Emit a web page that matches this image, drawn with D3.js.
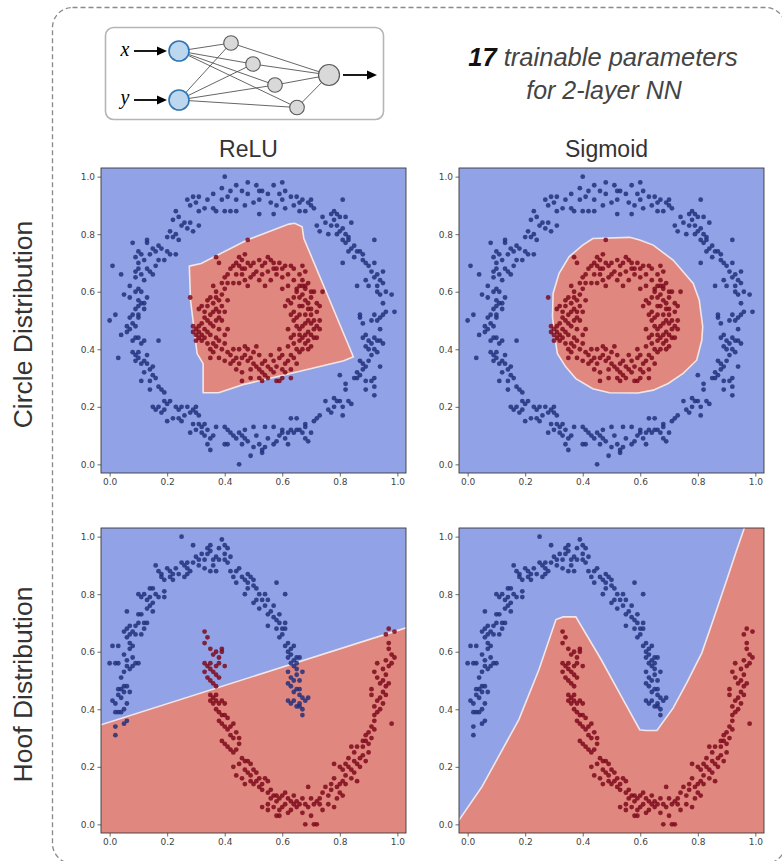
<!DOCTYPE html>
<html>
<head>
<meta charset="utf-8">
<script src="https://cdn.jsdelivr.net/npm/d3@7"></script>
<style>
  html, body { margin: 0; padding: 0; background: #fff; }
  svg { display: block; }
</style>
</head>
<body>
<svg id="chart" width="782" height="861"></svg>
<script>
// ---------- data ----------
const tickValues = [0.0, 0.2, 0.4, 0.6, 0.8, 1.0];
const columnTitles = ["ReLU", "Sigmoid"];
const rowTitles = ["Circle Distribution", "Hoof Distribution"];

// circle distribution: outer ring (class 0) and inner ring (class 1)
const circleOuter = [
  [0.40,1.00],[0.44,0.97],[0.48,0.98],[0.51,0.97],[0.57,0.97],[0.60,0.98],[0.39,0.96],
  [0.42,0.95],[0.46,0.95],[0.48,0.94],[0.52,0.95],[0.53,0.95],[0.55,0.94],[0.59,0.94],[0.61,0.95],
  [0.63,0.93],[0.65,0.93],[0.67,0.92],[0.66,0.91],[0.64,0.90],
  [0.36,0.94],[0.34,0.92],[0.31,0.93],[0.30,0.91],[0.29,0.93],[0.28,0.90],[0.27,0.92],
  [0.39,0.92],[0.41,0.93],[0.44,0.92],[0.47,0.90],[0.50,0.91],[0.52,0.92],[0.56,0.91],[0.58,0.90],[0.60,0.92],
  [0.31,0.88],[0.33,0.89],[0.36,0.89],[0.37,0.88],[0.40,0.88],[0.42,0.88],[0.44,0.88],[0.52,0.87],[0.57,0.87],
  [0.61,0.89],[0.66,0.88],[0.68,0.88],[0.69,0.91],[0.70,0.92],[0.70,0.90],[0.71,0.89],
  [0.23,0.88],[0.24,0.86],[0.22,0.85],[0.26,0.84],[0.25,0.83],[0.27,0.82],[0.28,0.84],[0.31,0.83],[0.29,0.81],
  [0.21,0.81],[0.22,0.79],[0.23,0.80],[0.24,0.78],
  [0.74,0.86],[0.75,0.84],[0.77,0.87],[0.78,0.88],[0.79,0.87],[0.80,0.86],[0.81,0.92],[0.78,0.85],[0.82,0.86],
  [0.77,0.83],[0.79,0.83],[0.80,0.81],[0.81,0.82],[0.82,0.80],[0.84,0.84],[0.76,0.80],[0.79,0.80],[0.83,0.79],
  [0.72,0.83],[0.73,0.81],
  [0.08,0.77],[0.13,0.78],[0.13,0.77],[0.10,0.74],[0.11,0.73],[0.14,0.73],[0.15,0.75],[0.16,0.74],[0.17,0.76],
  [0.18,0.75],[0.20,0.74],[0.21,0.73],[0.19,0.71],[0.17,0.71],[0.16,0.69],[0.20,0.79],[0.23,0.73],
  [0.09,0.72],[0.10,0.70],[0.12,0.71],[0.10,0.68],[0.09,0.67],[0.11,0.66],[0.13,0.68],[0.12,0.64],[0.14,0.67],
  [0.15,0.66],[0.09,0.65],[0.07,0.62],
  [0.01,0.69],[0.04,0.66],[0.05,0.59],[0.07,0.58],[0.10,0.61],[0.09,0.60],[0.11,0.60],[0.10,0.57],[0.12,0.56],
  [0.11,0.56],[0.10,0.55],[0.13,0.58],[0.09,0.54],[0.12,0.54],
  [0.00,0.50],[0.02,0.52],[0.04,0.45],[0.06,0.46],[0.07,0.51],[0.08,0.52],[0.06,0.48],[0.07,0.47],[0.08,0.49],
  [0.09,0.48],[0.10,0.51],[0.10,0.52],[0.09,0.44],[0.10,0.44],[0.08,0.43],[0.12,0.43],[0.11,0.42],
  [0.03,0.37],[0.08,0.39],[0.09,0.38],[0.10,0.39],[0.09,0.36],[0.10,0.37],[0.11,0.35],[0.12,0.36],[0.13,0.35],
  [0.13,0.38],[0.14,0.33],[0.15,0.34],[0.12,0.32],[0.15,0.31],[0.16,0.30],[0.14,0.29],[0.11,0.29],[0.17,0.43],
  [0.14,0.26],[0.17,0.27],[0.18,0.26],[0.19,0.25],[0.20,0.21],[0.19,0.22],[0.21,0.22],[0.17,0.20],[0.15,0.20],
  [0.16,0.19],[0.19,0.19],[0.18,0.18],[0.20,0.15],[0.22,0.16],[0.23,0.20],[0.24,0.19],[0.25,0.20],[0.27,0.20],
  [0.28,0.18],[0.25,0.15],[0.24,0.16],[0.26,0.17],[0.29,0.19],[0.30,0.20],[0.30,0.18],[0.31,0.17],
  [0.31,0.14],[0.32,0.13],[0.33,0.14],[0.32,0.11],[0.33,0.10],[0.34,0.12],[0.35,0.09],[0.36,0.10],[0.37,0.13],
  [0.34,0.07],[0.35,0.05],[0.28,0.11],[0.30,0.12],[0.29,0.14],
  [0.40,0.13],[0.41,0.12],[0.42,0.11],[0.40,0.07],[0.41,0.07],[0.43,0.10],[0.44,0.09],[0.45,0.11],[0.46,0.10],
  [0.47,0.12],[0.47,0.09],[0.48,0.08],[0.46,0.07],[0.45,0.00],[0.49,0.03],[0.50,0.13],[0.51,0.10],[0.50,0.06],
  [0.52,0.07],[0.53,0.05],[0.53,0.04],[0.54,0.06],[0.55,0.09],[0.54,0.13],[0.57,0.13],[0.57,0.07],[0.58,0.08],
  [0.59,0.10],[0.60,0.11],[0.61,0.09],[0.60,0.12],[0.62,0.11],[0.63,0.12],[0.64,0.11],[0.62,0.07],[0.65,0.12],
  [0.66,0.12],[0.67,0.11],[0.68,0.09],[0.69,0.08],[0.68,0.13],[0.70,0.11],[0.71,0.15],[0.63,0.16],[0.65,0.16],[0.68,0.14],
  [0.72,0.16],[0.73,0.17],[0.75,0.22],[0.76,0.19],[0.77,0.18],[0.78,0.20],[0.78,0.23],[0.79,0.22],[0.80,0.22],
  [0.81,0.20],[0.81,0.17],[0.83,0.22],[0.84,0.21],[0.82,0.26],[0.85,0.30],[0.86,0.30],[0.86,0.32],[0.87,0.31],
  [0.89,0.29],[0.88,0.33],[0.91,0.29],[0.92,0.30],[0.92,0.27],[0.92,0.24],[0.89,0.26],[0.80,0.31],[0.82,0.28],
  [0.87,0.36],[0.88,0.35],[0.89,0.34],[0.90,0.36],[0.91,0.38],[0.93,0.39],[0.92,0.40],[0.94,0.34],[0.90,0.40],[0.89,0.41],
  [0.88,0.44],[0.89,0.45],[0.90,0.43],[0.91,0.42],[0.92,0.44],[0.93,0.43],[0.94,0.43],[0.95,0.42],[0.94,0.47],
  [0.93,0.50],[0.94,0.51],[0.95,0.52],[0.96,0.53],[0.92,0.52],[0.91,0.50],[0.88,0.49],[0.87,0.51],[0.87,0.52],
  [0.99,0.53],[0.98,0.59],[0.95,0.56],[0.94,0.59],[0.93,0.60],[0.96,0.60],[0.95,0.63],[0.94,0.64],[0.92,0.65],
  [0.93,0.62],[0.90,0.62],[0.89,0.64],[0.91,0.67],[0.92,0.70],[0.93,0.66],[0.95,0.67],[0.90,0.69],[0.89,0.70],
  [0.88,0.71],[0.86,0.74],[0.87,0.74],[0.88,0.73],[0.85,0.72],[0.84,0.75],[0.83,0.74],[0.85,0.76],[0.82,0.77],
  [0.83,0.78],[0.81,0.78],[0.86,0.62],[0.81,0.70],[0.92,0.78]
];
const circleInner = [
  [0.48,0.78],[0.37,0.72],[0.38,0.70],[0.45,0.72],[0.46,0.71],[0.47,0.73],[0.44,0.70],[0.45,0.69],[0.47,0.68],
  [0.48,0.70],[0.49,0.69],[0.52,0.71],[0.53,0.69],[0.55,0.72],[0.56,0.71],[0.57,0.70],[0.58,0.68],[0.59,0.70],
  [0.61,0.69],[0.63,0.69],[0.64,0.68],[0.62,0.66],[0.60,0.65],[0.58,0.66],[0.55,0.67],[0.53,0.66],[0.51,0.67],
  [0.50,0.66],[0.49,0.65],[0.46,0.66],[0.44,0.66],[0.42,0.68],[0.41,0.66],[0.40,0.65],[0.41,0.63],[0.43,0.63],
  [0.45,0.63],[0.47,0.64],[0.52,0.64],[0.56,0.64],[0.60,0.61],[0.62,0.62],[0.64,0.64],[0.65,0.61],[0.66,0.62],
  [0.67,0.64],[0.68,0.62],[0.66,0.66],[0.68,0.67],[0.67,0.69],
  [0.43,0.69],[0.46,0.68],[0.50,0.70],[0.54,0.70],[0.57,0.68],[0.60,0.68],[0.39,0.63],[0.48,0.62],[0.54,0.62],
  [0.36,0.62],[0.37,0.60],[0.39,0.59],[0.40,0.61],[0.35,0.58],[0.34,0.57],[0.36,0.56],[0.38,0.57],[0.39,0.55],
  [0.41,0.57],[0.40,0.53],[0.38,0.53],[0.36,0.53],[0.35,0.52],[0.33,0.53],[0.32,0.55],[0.31,0.54],[0.34,0.50],
  [0.35,0.49],[0.37,0.50],[0.38,0.51],[0.36,0.48],[0.33,0.47],[0.31,0.48],[0.29,0.48],[0.28,0.58],[0.30,0.47],
  [0.29,0.46],[0.31,0.46],[0.32,0.45],[0.34,0.46],[0.35,0.45],[0.33,0.44],[0.31,0.44],[0.30,0.43],[0.37,0.44],
  [0.36,0.42],[0.38,0.43],[0.35,0.40],[0.36,0.39],[0.37,0.41],[0.39,0.40],[0.40,0.42],[0.41,0.39],[0.38,0.37],
  [0.40,0.36],[0.42,0.38],[0.43,0.40],[0.35,0.37],[0.39,0.50],[0.41,0.47],[0.40,0.45],[0.30,0.45],
  [0.32,0.49],[0.33,0.51],[0.34,0.55],[0.37,0.58],[0.38,0.47],[0.34,0.42],[0.32,0.43],[0.37,0.54],
  [0.42,0.35],[0.43,0.36],[0.44,0.37],[0.45,0.35],[0.44,0.33],[0.46,0.32],[0.45,0.40],[0.47,0.41],[0.48,0.40],
  [0.47,0.38],[0.48,0.36],[0.49,0.37],[0.50,0.39],[0.51,0.41],[0.50,0.35],[0.51,0.34],[0.52,0.33],[0.53,0.35],
  [0.53,0.32],[0.54,0.31],[0.55,0.30],[0.52,0.30],[0.53,0.29],[0.49,0.30],[0.46,0.29],[0.55,0.34],[0.56,0.38],
  [0.57,0.36],[0.57,0.32],[0.58,0.34],[0.59,0.37],[0.59,0.40],[0.60,0.38],[0.61,0.35],[0.62,0.36],[0.61,0.32],
  [0.60,0.30],[0.58,0.29],[0.59,0.29],[0.63,0.33],[0.63,0.38],[0.62,0.41],[0.64,0.42],[0.65,0.40],[0.66,0.39],
  [0.64,0.37],[0.65,0.35],[0.63,0.30],
  [0.46,0.37],[0.49,0.33],[0.54,0.36],[0.56,0.33],[0.60,0.33],[0.52,0.38],
  [0.61,0.55],[0.62,0.57],[0.63,0.56],[0.64,0.58],[0.65,0.60],[0.66,0.58],[0.67,0.59],[0.68,0.57],[0.69,0.56],
  [0.70,0.58],[0.71,0.60],[0.72,0.56],[0.73,0.55],[0.72,0.53],[0.70,0.52],[0.69,0.54],[0.67,0.55],[0.66,0.52],
  [0.65,0.51],[0.64,0.50],[0.63,0.52],[0.65,0.48],[0.66,0.47],[0.67,0.48],[0.68,0.49],[0.69,0.50],[0.70,0.49],
  [0.71,0.50],[0.72,0.48],[0.73,0.47],[0.69,0.46],[0.68,0.45],[0.67,0.44],[0.66,0.43],[0.68,0.42],[0.69,0.43],
  [0.70,0.45],[0.71,0.44],[0.72,0.44],[0.70,0.41],[0.69,0.40],[0.67,0.40],[0.66,0.45],[0.64,0.45],[0.63,0.44],
  [0.62,0.47],[0.73,0.50],[0.70,0.54],[0.68,0.61],[0.67,0.62],[0.69,0.63],[0.74,0.60],
  [0.66,0.55],[0.68,0.52],[0.71,0.47],[0.64,0.53],[0.70,0.60]
];

// hoof distribution: upper moon (class 0) and lower moon (class 1)
const hoofUpper = [
  [0.02,0.31],[0.02,0.34],[0.05,0.35],[0.06,0.36],[0.02,0.39],[0.03,0.39],[0.04,0.39],[0.05,0.40],[0.01,0.43],
  [0.02,0.42],[0.03,0.45],[0.04,0.44],[0.06,0.42],[0.05,0.46],[0.04,0.47],[0.03,0.47],[0.05,0.48],[0.06,0.48],
  [0.07,0.46],[0.04,0.51],[0.05,0.53],[0.06,0.55],[0.07,0.54],[0.08,0.55],[0.09,0.56],[0.10,0.56],[0.00,0.56],
  [0.02,0.56],[0.03,0.56],[0.01,0.62],[0.03,0.62],[0.05,0.59],[0.06,0.57],[0.08,0.58],[0.07,0.61],[0.08,0.62],
  [0.07,0.63],[0.06,0.65],[0.05,0.67],[0.06,0.68],[0.07,0.66],[0.08,0.67],[0.09,0.66],[0.09,0.69],[0.10,0.70],
  [0.11,0.66],[0.10,0.73],[0.11,0.73],[0.12,0.70],[0.13,0.70],[0.12,0.68],[0.06,0.74],[0.07,0.69],[0.10,0.80],
  [0.11,0.79],[0.12,0.80],[0.13,0.78],[0.14,0.79],[0.14,0.76],[0.15,0.77],[0.15,0.74],[0.13,0.75],[0.14,0.82],
  [0.15,0.82],[0.16,0.80],[0.17,0.79],[0.19,0.81],[0.19,0.79],
  [0.16,0.90],[0.17,0.88],[0.18,0.87],[0.18,0.86],[0.19,0.85],[0.20,0.89],[0.21,0.86],[0.21,0.88],[0.22,0.87],
  [0.22,0.85],[0.23,0.89],[0.24,0.87],[0.25,1.00],[0.25,0.91],[0.26,0.90],[0.27,0.91],[0.27,0.89],[0.26,0.86],
  [0.27,0.87],[0.28,0.88],[0.29,0.91],[0.29,0.97],[0.30,0.93],[0.31,0.92],[0.31,0.90],[0.32,0.94],[0.33,0.92],
  [0.33,0.89],[0.34,0.94],[0.34,0.96],[0.35,0.97],[0.35,0.95],[0.36,0.92],[0.37,0.93],[0.36,0.90],[0.35,0.88],
  [0.37,0.88],[0.38,0.92],[0.38,0.96],[0.39,0.99],[0.40,0.94],[0.40,0.97],[0.41,0.96],[0.40,0.92],[0.41,0.91],
  [0.42,0.93],[0.42,0.88],[0.43,0.86],[0.44,0.88],[0.45,0.89],[0.44,0.84],[0.46,0.86],[0.47,0.85],[0.48,0.84],
  [0.48,0.87],[0.49,0.86],[0.47,0.80],[0.48,0.82],[0.50,0.83],[0.50,0.85],[0.51,0.82],[0.52,0.80],[0.51,0.78],
  [0.50,0.77],[0.52,0.75],[0.53,0.78],[0.54,0.80],[0.55,0.78],[0.54,0.76],[0.55,0.73],[0.56,0.74],[0.57,0.76],
  [0.57,0.72],[0.58,0.71],[0.59,0.73],[0.59,0.70],[0.58,0.68],[0.60,0.66],[0.59,0.65],[0.60,0.68],[0.61,0.70],
  [0.58,0.84],[0.61,0.80],[0.55,0.69],[0.62,0.60],[0.61,0.62],[0.62,0.58],[0.63,0.61],[0.63,0.59],[0.64,0.62],
  [0.63,0.56],[0.64,0.55],[0.65,0.56],[0.65,0.54],[0.62,0.53],[0.63,0.51],[0.64,0.50],[0.65,0.52],[0.66,0.50],
  [0.62,0.49],[0.63,0.48],[0.65,0.47],[0.66,0.47],[0.64,0.46],[0.66,0.45],[0.67,0.53],[0.67,0.44],[0.68,0.43],
  [0.62,0.43],[0.63,0.42],[0.64,0.43],[0.65,0.41],[0.66,0.41],[0.67,0.40],[0.67,0.38],[0.66,0.42],[0.69,0.44],
  [0.64,0.57],[0.65,0.58],[0.66,0.58],[0.62,0.63],[0.61,0.68]
];
const hoofLower = [
  [0.33,0.67],[0.34,0.65],[0.33,0.63],[0.35,0.61],[0.36,0.59],[0.37,0.60],[0.38,0.58],[0.39,0.61],[0.39,0.60],
  [0.33,0.56],[0.34,0.55],[0.35,0.56],[0.35,0.54],[0.36,0.53],[0.37,0.55],[0.38,0.56],[0.33,0.53],[0.34,0.51],
  [0.35,0.50],[0.36,0.49],[0.37,0.52],[0.38,0.51],[0.40,0.55],[0.37,0.48],[0.35,0.45],[0.36,0.44],[0.37,0.45],
  [0.35,0.43],[0.36,0.42],[0.37,0.43],[0.38,0.42],[0.39,0.43],[0.40,0.42],[0.37,0.40],[0.38,0.39],[0.39,0.38],
  [0.40,0.38],[0.41,0.37],[0.38,0.36],[0.39,0.35],[0.40,0.34],[0.41,0.33],[0.42,0.34],[0.43,0.35],[0.42,0.31],
  [0.43,0.30],[0.44,0.32],[0.39,0.29],[0.40,0.28],[0.41,0.27],[0.42,0.26],[0.43,0.25],[0.44,0.26],[0.45,0.28],
  [0.45,0.30],[0.46,0.23],[0.47,0.22],[0.48,0.22],[0.49,0.21],[0.45,0.21],[0.47,0.19],[0.48,0.18],[0.49,0.17],
  [0.50,0.19],[0.51,0.18],[0.49,0.15],[0.50,0.14],[0.51,0.15],[0.52,0.16],[0.53,0.14],[0.54,0.16],[0.55,0.15],
  [0.52,0.13],[0.53,0.12],[0.55,0.11],[0.56,0.12],[0.57,0.10],[0.58,0.10],[0.58,0.08],[0.59,0.09],[0.60,0.10],
  [0.61,0.07],[0.60,0.06],[0.59,0.05],[0.53,0.06],[0.55,0.07],[0.56,0.09],[0.58,0.03],[0.59,0.03],[0.61,0.11],
  [0.62,0.09],[0.63,0.08],[0.63,0.05],[0.64,0.07],[0.65,0.08],[0.66,0.07],[0.65,0.06],[0.67,0.09],[0.68,0.07],
  [0.67,0.04],[0.68,0.00],[0.69,0.13],[0.69,0.06],[0.70,0.03],[0.71,0.00],[0.72,0.00],[0.71,0.07],[0.72,0.08],
  [0.73,0.09],[0.73,0.07],[0.74,0.05],[0.74,0.11],[0.75,0.13],[0.76,0.10],[0.77,0.12],[0.76,0.07],[0.78,0.06],
  [0.79,0.09],[0.79,0.13],[0.80,0.11],[0.81,0.10],[0.80,0.14],[0.82,0.14],[0.82,0.17],[0.81,0.19],[0.82,0.21],
  [0.78,0.21],[0.80,0.20],[0.83,0.20],[0.84,0.19],[0.83,0.23],[0.85,0.18],[0.85,0.22],[0.84,0.16],[0.86,0.15],
  [0.86,0.21],[0.87,0.20],[0.87,0.23],[0.88,0.24],[0.89,0.22],[0.90,0.25],[0.88,0.27],[0.88,0.29],[0.89,0.29],
  [0.90,0.28],[0.89,0.31],[0.91,0.30],[0.90,0.32],[0.91,0.34],[0.92,0.33],[0.92,0.36],[0.92,0.38],[0.93,0.39],
  [0.92,0.41],[0.93,0.43],[0.94,0.40],[0.95,0.42],[0.94,0.44],[0.95,0.46],[0.96,0.45],[0.94,0.49],[0.95,0.50],
  [0.96,0.48],[0.97,0.49],[0.96,0.52],[0.95,0.54],[0.97,0.55],[0.96,0.57],[0.98,0.56],[0.98,0.59],[0.99,0.58],
  [0.97,0.61],[0.97,0.63],[0.97,0.68],[0.99,0.67],[0.96,0.66],[0.93,0.56],[0.92,0.53],[0.93,0.51],[0.91,0.47],
  [0.91,0.45],[0.98,0.35],[0.85,0.25],[0.84,0.27],[0.86,0.27],[0.43,0.20],[0.44,0.17],[0.46,0.16],[0.47,0.14],
  [0.55,0.05],[0.57,0.06],[0.62,0.04],[0.64,0.10],[0.70,0.09],[0.77,0.14],[0.78,0.16],[0.81,0.15]
];

// decision boundaries (class-1 region outlines, data units)
const reluCircleBoundary = [
  [0.277,0.689],[0.318,0.698],[0.478,0.780],[0.623,0.835],[0.643,0.838],[0.669,0.826],[0.675,0.785],
  [0.847,0.374],[0.814,0.360],[0.588,0.306],[0.466,0.278],[0.379,0.249],[0.325,0.249],[0.325,0.350],
  [0.304,0.385],[0.281,0.572]
];
const sigmoidCircleBoundary = [
  [0.435,0.785],[0.563,0.789],[0.598,0.780],[0.645,0.762],[0.714,0.710],[0.784,0.629],[0.805,0.571],
  [0.817,0.479],[0.814,0.432],[0.796,0.362],[0.749,0.316],[0.697,0.281],[0.645,0.258],[0.592,0.248],
  [0.493,0.249],[0.435,0.263],[0.376,0.298],[0.341,0.339],[0.312,0.385],[0.301,0.455],[0.295,0.513],
  [0.297,0.594],[0.318,0.664],[0.353,0.722],[0.400,0.762]
];
const reluHoofBoundary = [[-0.03,0.346],[1.03,0.683]];
const sigmoidHoofBoundary = [
  [-0.034,0.009],[0.050,0.131],[0.178,0.364],[0.248,0.538],[0.307,0.712],[0.332,0.721],[0.376,0.721],
  [0.464,0.573],[0.528,0.456],[0.598,0.329],[0.619,0.326],[0.658,0.326],[0.714,0.404],[0.761,0.491],
  [0.814,0.596],[0.854,0.712],[0.901,0.851],[0.936,0.956],[0.962,1.031]
];

// ---------- layout ----------
const svg = d3.select("#chart");
const domain = [-0.03, 1.03];
const panelSize = 305;
const colX = [101, 459];
const rowY = [168, 528];
const colors = {
  blueRegion: "#91a3e6",
  redRegion: "#e0877f",
  bluePoint: "#23307c",
  redPoint: "#7e0a1c",
  edge: "#f3e6e6",
  axis: "#444"
};

// outer dashed frame
svg.append("rect")
  .attr("x", 52.5).attr("y", 7.5).attr("width", 733).attr("height", 856)
  .attr("rx", 20).attr("ry", 20)
  .attr("fill", "none").attr("stroke", "#8a8a8a")
  .attr("stroke-width", 1.3).attr("stroke-dasharray", "5,3");

// ---------- network diagram ----------
const net = svg.append("g");
net.append("rect")
  .attr("x", 105.5).attr("y", 27.5).attr("width", 278).attr("height", 92)
  .attr("rx", 8).attr("fill", "#fff").attr("stroke", "#b5b5b5").attr("stroke-width", 1.6);

const inputs = [[179, 51], [179, 100]];
const hidden = [[231, 43], [253, 64], [275, 85], [297, 107.5]];
const output = [329, 75];
const edges = [];
inputs.forEach(a => hidden.forEach(h => edges.push([a, h])));
hidden.forEach(h => edges.push([h, output]));
net.selectAll("line.edge").data(edges).join("line")
  .attr("class", "edge")
  .attr("x1", d => d[0][0]).attr("y1", d => d[0][1])
  .attr("x2", d => d[1][0]).attr("y2", d => d[1][1])
  .attr("stroke", "#555").attr("stroke-width", 0.9);

function arrow(x1, x2, y) {
  net.append("line").attr("x1", x1).attr("y1", y).attr("x2", x2 - 8).attr("y2", y)
    .attr("stroke", "#000").attr("stroke-width", 1.8);
  net.append("path")
    .attr("d", `M${x2},${y} L${x2 - 10},${y - 4.5} L${x2 - 10},${y + 4.5} Z`)
    .attr("fill", "#000");
}
arrow(134, 167, 51);
arrow(134, 167, 100);
arrow(343, 377, 75);

net.selectAll("circle.in").data(inputs).join("circle")
  .attr("class", "in").attr("cx", d => d[0]).attr("cy", d => d[1]).attr("r", 10)
  .attr("fill", "#bdd7ee").attr("stroke", "#2e75b6").attr("stroke-width", 1.6);
net.selectAll("circle.hid").data(hidden).join("circle")
  .attr("class", "hid").attr("cx", d => d[0]).attr("cy", d => d[1]).attr("r", 7.3)
  .attr("fill", "#d9d9d9").attr("stroke", "#5a5a5a").attr("stroke-width", 1.1);
net.append("circle").attr("cx", output[0]).attr("cy", output[1]).attr("r", 10.5)
  .attr("fill", "#d9d9d9").attr("stroke", "#5a5a5a").attr("stroke-width", 1.2);

net.append("text").attr("x", 125).attr("y", 56).attr("text-anchor", "middle")
  .attr("font-family", "Liberation Serif, serif").attr("font-style", "italic")
  .attr("font-size", 20).text("x");
net.append("text").attr("x", 125).attr("y", 104).attr("text-anchor", "middle")
  .attr("font-family", "Liberation Serif, serif").attr("font-style", "italic")
  .attr("font-size", 20).text("y");

// ---------- headline ----------
const head = svg.append("text").attr("x", 603).attr("y", 66).attr("text-anchor", "middle")
  .attr("font-family", "Liberation Sans, Arial, sans-serif").attr("font-size", 25.5)
  .attr("font-style", "italic");
head.append("tspan").attr("font-weight", "bold").attr("fill", "#111").text("17");
head.append("tspan").attr("fill", "#444").text(" trainable parameters");
svg.append("text").attr("x", 604).attr("y", 99).attr("text-anchor", "middle")
  .attr("font-family", "Liberation Sans, Arial, sans-serif").attr("font-size", 25)
  .attr("font-style", "italic").attr("fill", "#444").text("for 2-layer NN");

// column titles
columnTitles.forEach((t, i) => {
  svg.append("text").attr("x", colX[i] + panelSize / 2 - 5).attr("y", 157)
    .attr("text-anchor", "middle")
    .attr("font-family", "Liberation Sans, Arial, sans-serif").attr("font-size", 23)
    .attr("fill", "#333").text(t);
});
// row titles
rowTitles.forEach((t, i) => {
  svg.append("text")
    .attr("transform", `translate(32,${rowY[i] + panelSize / 2 + 4}) rotate(-90)`)
    .attr("text-anchor", "middle")
    .attr("font-family", "Liberation Sans, Arial, sans-serif").attr("font-size", 26.5)
    .attr("fill", "#333").text(t);
});

// ---------- panels ----------
const panels = [
  { col: 0, row: 0, outer: circleOuter, inner: circleInner, boundary: reluCircleBoundary, kind: "closed" },
  { col: 1, row: 0, outer: circleOuter, inner: circleInner, boundary: sigmoidCircleBoundary, kind: "closed" },
  { col: 0, row: 1, outer: hoofUpper, inner: hoofLower, boundary: reluHoofBoundary, kind: "below" },
  { col: 1, row: 1, outer: hoofUpper, inner: hoofLower, boundary: sigmoidHoofBoundary, kind: "belowRight" }
];

panels.forEach((p, idx) => {
  const x0 = colX[p.col], y0 = rowY[p.row];
  const x = d3.scaleLinear().domain(domain).range([x0, x0 + panelSize]);
  const y = d3.scaleLinear().domain(domain).range([y0 + panelSize, y0]);
  const g = svg.append("g");

  const clipId = "clip" + idx;
  g.append("clipPath").attr("id", clipId).append("rect")
    .attr("x", x0).attr("y", y0).attr("width", panelSize).attr("height", panelSize);
  const inner = g.append("g").attr("clip-path", `url(#${clipId})`);

  inner.append("rect").attr("x", x0).attr("y", y0).attr("width", panelSize).attr("height", panelSize)
    .attr("fill", colors.blueRegion);

  let region;
  if (p.kind === "closed") {
    region = p.boundary;
  } else if (p.kind === "below") {
    region = p.boundary.concat([[domain[1], domain[0]], [domain[0], domain[0]]]);
  } else {
    region = p.boundary.concat([[domain[1], domain[1]], [domain[1], domain[0]], [domain[0], domain[0]]]);
  }
  const line = d3.line().x(d => x(d[0])).y(d => y(d[1]));
  inner.append("path").attr("d", line(region) + "Z").attr("fill", colors.redRegion);
  inner.append("path")
    .attr("d", p.kind === "closed" ? line(p.boundary) + "Z" : line(p.boundary))
    .attr("fill", "none").attr("stroke", colors.edge).attr("stroke-width", 1.6);

  inner.selectAll("circle.o").data(p.outer).join("circle")
    .attr("class", "o").attr("cx", d => x(d[0])).attr("cy", d => y(d[1])).attr("r", 2.4)
    .attr("fill", colors.bluePoint).attr("fill-opacity", 0.85);
  inner.selectAll("circle.i").data(p.inner).join("circle")
    .attr("class", "i").attr("cx", d => x(d[0])).attr("cy", d => y(d[1])).attr("r", 2.4)
    .attr("fill", colors.redPoint).attr("fill-opacity", 0.85);

  // axes
  const xAxis = d3.axisBottom(x).tickValues(tickValues).tickFormat(d3.format(".1f"))
    .tickSize(3.5).tickPadding(2.5);
  const yAxis = d3.axisLeft(y).tickValues(tickValues).tickFormat(d3.format(".1f"))
    .tickSize(3.5).tickPadding(2.5);
  const ax = g.append("g").attr("transform", `translate(0,${y0 + panelSize})`).call(xAxis);
  const ay = g.append("g").attr("transform", `translate(${x0},0)`).call(yAxis);
  [ax, ay].forEach(a => {
    a.select(".domain").remove();
    a.selectAll("line").attr("stroke", colors.axis).attr("stroke-width", 0.8);
    a.selectAll("text").attr("font-family", "DejaVu Sans, sans-serif").attr("font-size", 9)
      .attr("fill", "#444");
  });
  g.append("rect").attr("x", x0).attr("y", y0).attr("width", panelSize).attr("height", panelSize)
    .attr("fill", "none").attr("stroke", "#3a3a3a").attr("stroke-width", 0.9);
});
</script>
</body>
</html>
